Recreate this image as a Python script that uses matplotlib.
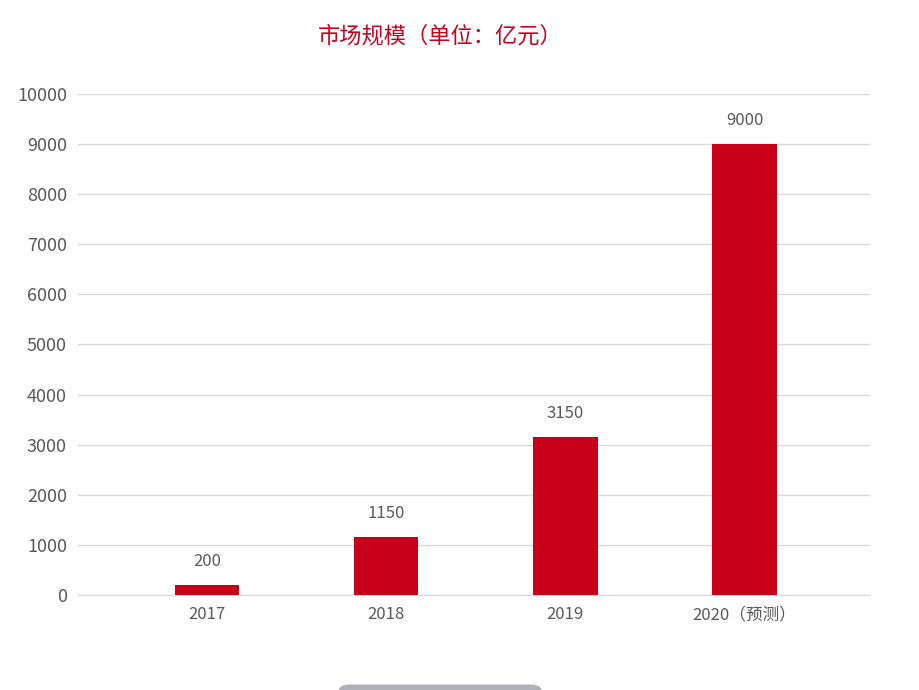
import matplotlib
matplotlib.use("Agg")
import matplotlib.pyplot as plt
from matplotlib.patches import FancyBboxPatch

categories = ["2017", "2018", "2019", "2020（预测）"]
values = [200, 1150, 3150, 9000]
yticks = [0, 1000, 2000, 3000, 4000, 5000, 6000, 7000, 8000, 9000, 10000]

plt.rcParams["font.family"] = ["Noto Sans CJK SC"]
fig = plt.figure(figsize=(9.19, 6.9), dpi=100)
ax = fig.add_axes([0.0849, 0.1377, 0.8618, 0.7261])
x = range(len(categories))
ax.bar(x, values, width=0.36, color="#C8001A", zorder=3)
for xi, v in zip(x, values):
    ax.text(xi, v + 300, str(v), ha="center", va="bottom", fontsize=12, color="#595959")
ax.set_xlim(-0.72, 3.70)
ax.set_ylim(0, 10000)
ax.set_yticks(yticks)
ax.set_yticklabels([str(t) for t in yticks], fontsize=13, color="#595959")
ax.set_xticks(list(x))
ax.set_xticklabels(categories, fontsize=12, color="#595959")
ax.grid(axis="y", color="#D9D9D9", linewidth=1, zorder=0)
for s in ["top", "right", "left"]:
    ax.spines[s].set_visible(False)
ax.spines["bottom"].set_color("#D9D9D9")
ax.tick_params(length=0, pad=8)
fig.text(0.479, 0.948, "市场规模（单位：亿元）", ha="center", va="center", fontsize=16, color="#C8001A")
fig.patches.append(FancyBboxPatch((0.368, -0.02), 0.222, 0.028, boxstyle="round,pad=0,rounding_size=0.012",
                                  transform=fig.transFigure, facecolor="#B0B0B8", edgecolor="none"))
fig.savefig("out.png", dpi=100)
